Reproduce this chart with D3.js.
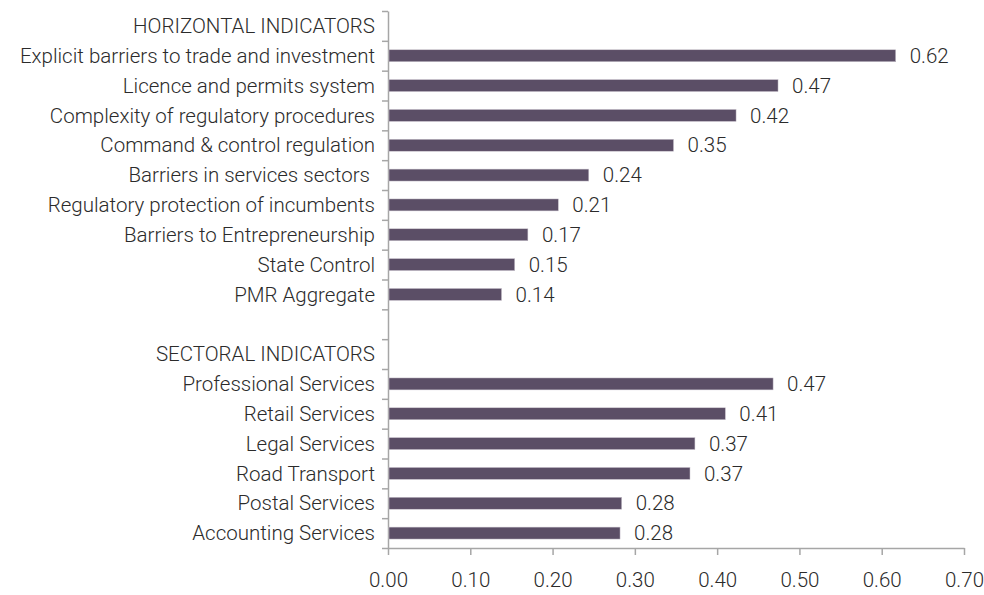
<!DOCTYPE html>
<html>
<head>
<meta charset="utf-8">
<script src="https://cdn.jsdelivr.net/npm/d3@7"></script>
<style>
  body { margin: 0; background: #fff; }
  text { font-family: Roboto, "Liberation Sans", sans-serif; font-weight: 300; fill: #2b2b2b; }
</style>
</head>
<body>
<div id="chart"></div>
<script>
// rows from top to bottom; headers and the blank row have no value
const categories = [
    "HORIZONTAL INDICATORS",
    "Explicit barriers to trade and investment",
    "Licence and permits system",
    "Complexity of regulatory procedures",
    "Command & control regulation",
    "Barriers in services sectors ",
    "Regulatory protection of incumbents",
    "Barriers to Entrepreneurship",
    "State Control",
    "PMR Aggregate",
    "",
    "SECTORAL INDICATORS",
    "Professional Services",
    "Retail Services",
    "Legal Services",
    "Road Transport",
    "Postal Services",
    "Accounting Services"
];
const values = [
    null, 0.617, 0.474, 0.423, 0.347, 0.244, 0.207, 0.170, 0.154, 0.138,
    null, null, 0.468, 0.410, 0.373, 0.367, 0.284, 0.282
];
const xTicks = [0, 0.1, 0.2, 0.3, 0.4, 0.5, 0.6, 0.7];

const width = 984, height = 595;
const margin = { top: 11, right: 20, bottom: 47, left: 388 };
const fontSize = '20.5px';

const svg = d3.select('#chart').append('svg')
    .attr('width', width)
    .attr('height', height);

const x = d3.scaleLinear()
    .domain([0, 0.7])
    .range([margin.left, 964]);

const y = d3.scaleBand()
    .domain(d3.range(categories.length))
    .range([margin.top, height - margin.bottom])
    .paddingInner(0.6)
    .paddingOuter(0.3);

// row boundaries for the y tick marks
const yEdge = d3.scaleLinear()
    .domain([0, categories.length])
    .range([margin.top, height - margin.bottom]);

const axisColor = '#a6a6a6';

// y axis: ticks between rows, no labels
const yAxisG = svg.append('g')
    .attr('transform', 'translate(' + x(0) + ',0)')
    .call(d3.axisLeft(yEdge).ticks(categories.length).tickSize(6).tickSizeOuter(0).tickFormat(''));

// x axis
const xAxisG = svg.append('g')
    .attr('transform', 'translate(0,' + (height - margin.bottom) + ')')
    .call(d3.axisBottom(x).tickValues(xTicks).tickSize(7).tickSizeOuter(0).tickPadding(17).tickFormat(d3.format('.2f')));

[yAxisG, xAxisG].forEach(g => {
    g.selectAll('path, line').attr('stroke', axisColor).attr('stroke-width', 1.5);
});
xAxisG.selectAll('text')
    .style('font-size', fontSize)
    .attr('fill', '#2b2b2b')
    .attr('font-family', null);

// category labels
svg.append('g')
    .selectAll('text')
    .data(categories)
    .join('text')
    .attr('x', x(0) - 13)
    .attr('y', (d, i) => y(i) + y.bandwidth() / 2)
    .attr('dy', '0.35em')
    .attr('text-anchor', 'end')
    .style('font-size', fontSize)
    .style('white-space', 'pre')
    .text(d => d);

const rows = values.map((v, i) => ({ i: i, v: v })).filter(d => d.v !== null);

// bars
svg.append('g')
    .selectAll('rect')
    .data(rows)
    .join('rect')
    .attr('x', x(0) + 1)
    .attr('y', d => y(d.i))
    .attr('width', d => x(d.v) - x(0) - 1)
    .attr('height', y.bandwidth())
    .attr('fill', '#5b4e66')
    .attr('stroke', '#c9c3cd')
    .attr('stroke-width', 0.5);

// value labels
svg.append('g')
    .selectAll('text')
    .data(rows)
    .join('text')
    .attr('x', d => x(d.v) + 14)
    .attr('y', d => y(d.i) + y.bandwidth() / 2)
    .attr('dy', '0.35em')
    .style('font-size', fontSize)
    .text(d => d3.format('.2f')(d.v));
</script>
</body>
</html>
